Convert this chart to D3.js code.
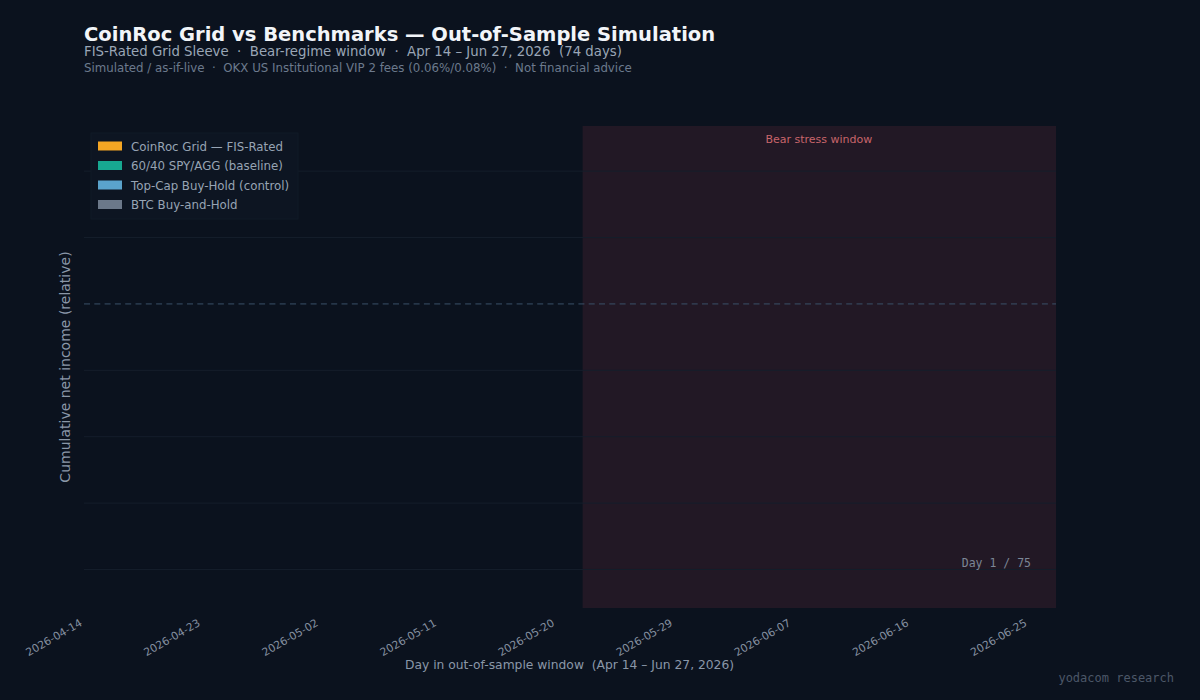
<!DOCTYPE html>
<html>
<head>
<meta charset="utf-8">
<script src="https://cdn.jsdelivr.net/npm/d3@7"></script>
<style>
  html, body { margin: 0; padding: 0; background: #0b121e; }
  svg { display: block; font-family: "DejaVu Sans", sans-serif; }
  svg text { white-space: pre; }
</style>
</head>
<body>
<div id="chart"></div>
<script>
// window + ticks
const startDate = "2026-04-14";
const endDate = "2026-06-27";
const bearStart = "2026-05-22";
const tickDates = ["2026-04-14", "2026-04-23", "2026-05-02", "2026-05-11", "2026-05-20",
                   "2026-05-29", "2026-06-07", "2026-06-16", "2026-06-25"];
const gridValues = [-4, -3, -2, -1, 1, 2];
const yDomain = [-4.58, 2.68];

// series (animation frame at day 1: only the first point exists)
const seriesNames = ["CoinRoc Grid — FIS-Rated", "60/40 SPY/AGG (baseline)", "Top-Cap Buy-Hold (control)", "BTC Buy-and-Hold"];
const seriesColors = ["#f5a623", "#17a891", "#5aa3cc", "#6b7889"];
const gridValuesSeries = [0];
const baselineValues = [0];
const topCapValues = [0];
const btcValues = [0];
const currentDay = 1;
const totalDays = 75;

function drawChart() {
   const w = 1200, h = 700;
   const m = { left: 84, right: 1055, top: 126, bottom: 608 };
   const parse = d3.utcParse("%Y-%m-%d");

   const svg = d3.select("#chart")
                 .append("svg")
                 .attr("width", w)
                 .attr("height", h)
                 .style("background-color", "#0b121e");

   const xScale = d3.scaleUtc()
                    .domain([parse(startDate), parse(endDate)])
                    .range([m.left, m.right]);
   const yScale = d3.scaleLinear()
                    .domain(yDomain)
                    .range([m.bottom, m.top]);

   // title block
   svg.append("text").attr("x", 84).attr("y", 41)
      .style("font-size", "19.5px").style("font-weight", "bold").attr("fill", "#f2f5f9")
      .text("CoinRoc Grid vs Benchmarks — Out-of-Sample Simulation");
   svg.append("text").attr("x", 84).attr("y", 56)
      .style("font-size", "13.3px").attr("fill", "#9aa6b6")
      .text("FIS-Rated Grid Sleeve  ·  Bear-regime window  ·  Apr 14 – Jun 27, 2026  (74 days)");
   svg.append("text").attr("x", 84).attr("y", 72)
      .style("font-size", "11.8px").attr("fill", "#6c7a8d")
      .text("Simulated / as-if-live  ·  OKX US Institutional VIP 2 fees (0.06%/0.08%)  ·  Not financial advice");

   // bear window
   svg.append("rect")
      .attr("x", xScale(parse(bearStart)))
      .attr("y", m.top)
      .attr("width", xScale(parse(endDate)) - xScale(parse(bearStart)) + 1)
      .attr("height", m.bottom - m.top)
      .attr("fill", "#221825");
   svg.append("text")
      .attr("x", (xScale(parse(bearStart)) + xScale(parse(endDate))) / 2)
      .attr("y", 143)
      .style("text-anchor", "middle")
      .style("font-size", "11px")
      .attr("fill", "#c8656b")
      .text("Bear stress window");

   // grid
   svg.append("g").selectAll("line")
      .data(gridValues)
      .enter()
      .append("line")
      .attr("x1", m.left).attr("x2", m.right + 1)
      .attr("y1", d => yScale(d)).attr("y2", d => yScale(d))
      .attr("stroke", "#151e2b")
      .attr("stroke-width", 1);
   svg.append("line")
      .attr("x1", m.left).attr("x2", m.right + 1)
      .attr("y1", yScale(0)).attr("y2", yScale(0))
      .attr("stroke", "#3a5068")
      .attr("stroke-width", 1)
      .attr("stroke-dasharray", "6,4.3");

   // x axis labels
   const xAxis = d3.axisBottom(xScale)
                   .tickValues(tickDates.map(parse))
                   .tickFormat(d3.utcFormat("%Y-%m-%d"))
                   .tickSize(0);
   const gx = svg.append("g")
                 .attr("transform", "translate(0," + m.bottom + ")")
                 .call(xAxis);
   gx.select(".domain").remove();
   gx.selectAll("text")
     .attr("fill", "#8590a0")
     .style("font-size", "10.8px")
     .style("font-family", "DejaVu Sans, sans-serif")
     .style("text-anchor", "end")
     .attr("x", -10)
     .attr("y", 14)
     .attr("dy", 0)
     .attr("transform", "rotate(-30)");

   svg.append("text")
      .attr("x", (m.left + m.right) / 2)
      .attr("y", 669)
      .style("text-anchor", "middle")
      .style("font-size", "12.3px")
      .attr("fill", "#8a97a8")
      .text("Day in out-of-sample window  (Apr 14 – Jun 27, 2026)");

   svg.append("text")
      .attr("transform", "rotate(-90)")
      .attr("x", -367)
      .attr("y", 70)
      .style("text-anchor", "middle")
      .style("font-size", "14px")
      .attr("fill", "#8a97a8")
      .text("Cumulative net income (relative)");

   // lines
   const allSeries = [gridValuesSeries, baselineValues, topCapValues, btcValues];
   const line = d3.line()
                  .x((d, i) => xScale(d3.utcDay.offset(parse(startDate), i)))
                  .y(d => yScale(d));
   svg.append("g").selectAll("path")
      .data(allSeries)
      .enter()
      .append("path")
      .attr("d", d => line(d))
      .attr("fill", "none")
      .attr("stroke", (d, i) => seriesColors[i])
      .attr("stroke-width", 2);

   // legend
   const legend = svg.append("g").attr("transform", "translate(91,133)");
   legend.append("rect")
         .attr("width", 207).attr("height", 86)
         .attr("fill", "#0d1522")
         .attr("stroke", "#111a27");
   const items = legend.selectAll("g.item")
                       .data(seriesNames)
                       .enter()
                       .append("g")
                       .attr("class", "item")
                       .attr("transform", (d, i) => "translate(0," + (13 + i * 19.5) + ")");
   items.append("rect")
        .attr("x", 7).attr("y", -4.5)
        .attr("width", 24).attr("height", 9)
        .attr("fill", (d, i) => seriesColors[i]);
   items.append("text")
        .attr("x", 40).attr("y", 4.5)
        .style("font-size", "11.8px")
        .attr("fill", "#97a4b4")
        .text(d => d);

   // frame counter + credit
   svg.append("text")
      .attr("x", 1031).attr("y", 567)
      .style("text-anchor", "end")
      .style("font-family", "DejaVu Sans Mono, monospace")
      .style("font-size", "11.5px")
      .attr("fill", "#7b8696")
      .text(`Day ${currentDay} / ${totalDays}`);
   svg.append("text")
      .attr("x", 1174).attr("y", 682)
      .style("text-anchor", "end")
      .style("font-family", "DejaVu Sans Mono, monospace")
      .style("font-size", "12px")
      .attr("fill", "#4b5768")
      .text("yodacom research");
}

drawChart();
</script>
</body>
</html>
